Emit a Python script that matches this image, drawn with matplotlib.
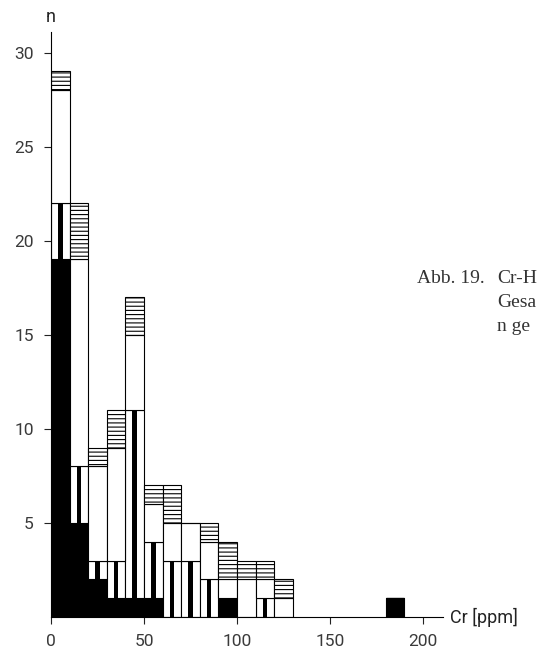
import numpy as np
import matplotlib
matplotlib.use("Agg")
import matplotlib.pyplot as plt

plt.rcParams["font.family"] = ["Roboto", "DejaVu Sans"]
plt.rcParams["hatch.linewidth"] = 0.8

# Data: Cr classes (10 ppm wide), counts per group, stacked from bottom
bin_left = [0, 10, 20, 30, 40, 50, 60, 70, 80, 90, 100, 110, 120, 180]
n_black = [19, 5, 2, 1, 1, 1, 0, 0, 0, 1, 0, 0, 0, 1]
n_stripe = [3, 3, 1, 2, 10, 3, 3, 3, 2, 0, 0, 1, 0, 0]
n_white = [6, 11, 5, 6, 4, 2, 2, 2, 2, 1, 2, 1, 1, 0]
n_hatch = [1, 3, 1, 2, 2, 1, 2, 0, 1, 2, 1, 1, 1, 0]

x_ticks = [0, 50, 100, 150, 200]
y_ticks = [5, 10, 15, 20, 25, 30]

bin_width = 10
centers = np.array(bin_left) + bin_width / 2

black = np.array(n_black)
stripe = np.array(n_stripe)
white = np.array(n_white)
hatch = np.array(n_hatch)

# Graph
fig = plt.figure(figsize=(5.37, 6.53), dpi=100)
ax = fig.add_axes([0.095, 0.0551, 0.730, 0.8962])

edge = dict(edgecolor="black", linewidth=0.8)

ax.bar(centers, black, width=bin_width, color="black", **edge)

ax.bar(centers, stripe, width=bin_width, bottom=black,
       color="white", **edge)
ax.bar(centers, stripe, width=2.4, bottom=black,
       color="black", linewidth=0)

ax.bar(centers, white, width=bin_width, bottom=black + stripe,
       color="white", **edge)

ax.bar(centers, hatch, width=bin_width, bottom=black + stripe + white,
       color="white", hatch="----", **edge)

ax.set_xlim(0, 210.8)
ax.set_ylim(0, 31.1)

ax.spines["top"].set_visible(False)
ax.spines["right"].set_visible(False)
ax.spines["left"].set_linewidth(0.8)
ax.spines["bottom"].set_linewidth(0.8)

ax.set_xticks(x_ticks)
ax.set_yticks(y_ticks)
ax.tick_params(axis="both", length=5, width=0.8, labelsize=12.5,
               labelcolor="#3a3a3a", color="#222222")
ax.tick_params(axis="y", pad=7.5)
ax.tick_params(axis="x", pad=7)

ax.text(0, 31.9, "n", ha="center", va="center", fontsize=13,
        color="#222222", clip_on=False)
ax.text(214.5, -0.32, "Cr [ppm]", ha="left", va="baseline",
        fontsize=13, color="#222222", clip_on=False)

# Caption (runs off the right edge in the original)
cap = dict(fontsize=14, color="#333333",
           family=["Liberation Serif", "DejaVu Serif"])
fig.text(417 / 537, 1 - 283 / 653, "Abb. 19.", ha="left", va="baseline", **cap)
fig.text(497 / 537, 1 - 283 / 653, "Cr-H", ha="left", va="baseline", **cap)
fig.text(497 / 537, 1 - 307 / 653, "Gesa", ha="left", va="baseline", **cap)
fig.text(497 / 537, 1 - 331 / 653, "n ge", ha="left", va="baseline", **cap)

fig.savefig("out.png", dpi=100)
